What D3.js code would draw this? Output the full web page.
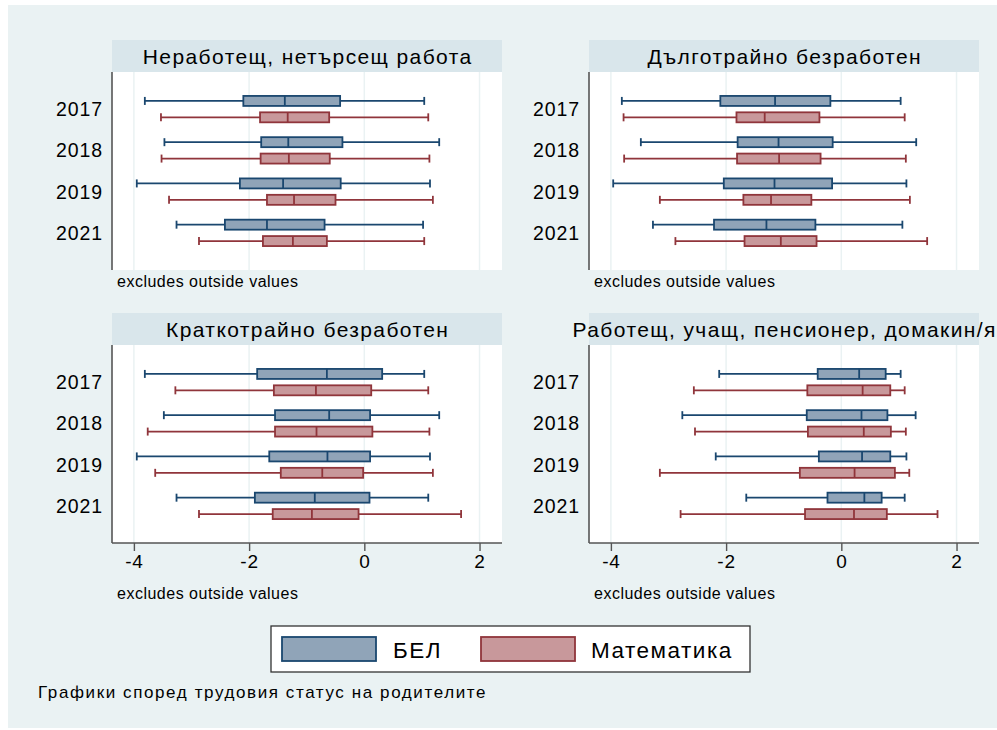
<!DOCTYPE html>
<html><head><meta charset="utf-8">
<script src="https://cdn.jsdelivr.net/npm/d3@7"></script>
<style>body{margin:0;background:#fff}svg{display:block;font-family:"Liberation Sans",Arial,sans-serif}</style>
</head><body>
<svg id="c" width="997" height="730"></svg>
<script>
const panels = ["Неработещ, нетърсещ работа","Дълготрайно безработен","Краткотрайно безработен","Работещ, учащ, пенсионер, домакин/я"];
const years = ["2017","2018","2019","2021"];
const series = ["БЕЛ","Математика"];
const xTicks = [-4,-2,0,2];
// [whiskerLow, q1, median, q3, whiskerHigh] per panel, per year
const bel = [
  [[-3.81,-2.10,-1.38,-0.42,1.04],[-3.47,-1.79,-1.32,-0.38,1.30],[-3.95,-2.16,-1.41,-0.41,1.14],[-3.26,-2.42,-1.69,-0.69,1.02]],
  [[-3.81,-2.10,-1.15,-0.19,1.03],[-3.48,-1.80,-1.09,-0.15,1.30],[-3.96,-2.04,-1.16,-0.16,1.13],[-3.27,-2.21,-1.30,-0.45,1.06]],
  [[-3.81,-1.86,-0.65,0.31,1.04],[-3.48,-1.55,-0.61,0.10,1.30],[-3.95,-1.65,-0.64,0.10,1.14],[-3.26,-1.90,-0.86,0.09,1.11]],
  [[-2.12,-0.41,0.31,0.77,1.03],[-2.76,-0.60,0.35,0.80,1.29],[-2.18,-0.39,0.36,0.85,1.13],[-1.65,-0.24,0.40,0.70,1.10]]
];
const mat = [
  [[-3.53,-1.81,-1.33,-0.61,1.11],[-3.52,-1.80,-1.31,-0.60,1.13],[-3.39,-1.69,-1.22,-0.50,1.19],[-2.87,-1.76,-1.24,-0.65,1.04]],
  [[-3.78,-1.82,-1.33,-0.38,1.10],[-3.77,-1.81,-1.08,-0.36,1.12],[-3.15,-1.70,-1.22,-0.52,1.19],[-2.88,-1.68,-1.05,-0.43,1.49]],
  [[-3.28,-1.57,-0.84,0.12,1.11],[-3.76,-1.55,-0.83,0.14,1.13],[-3.63,-1.45,-0.73,-0.02,1.19],[-2.87,-1.59,-0.91,-0.10,1.68]],
  [[-2.56,-0.59,0.37,0.85,1.10],[-2.54,-0.58,0.39,0.86,1.12],[-3.15,-0.72,0.23,0.93,1.18],[-2.79,-0.63,0.22,0.79,1.67]]
];
const note = "excludes outside values";
const caption = "Графики според трудовия статус на родителите";

const strokeC = ["#1a476f","#90353b"];
const fillC = ["#90a4b8","#c8989b"];
const bg = "#eaf2f3", stripC = "#d9e6eb";

const svg = d3.select("#c");
svg.append("rect").attr("x",8).attr("y",5).attr("width",989).attr("height",723).attr("fill",bg);

const pw = 390, ph = 198;
const origins = [[112,72],[589,72],[112,345],[589,345]];
const x = d3.scaleLinear().domain([-4.38,2.39]).range([0,pw]);
const y = d3.scalePoint().domain(years).range([0,ph]).padding(0.9);
const off = [-8.2, 8.2];
const bh = 10;

panels.forEach((title,i)=>{
  const [ox,oy] = origins[i];
  const g = svg.append("g").attr("transform",`translate(${ox},${oy})`);
  g.append("rect").attr("x",0).attr("y",-32).attr("width",pw).attr("height",32).attr("fill",stripC);
  g.append("text").attr("x",pw/2+0.7).attr("y",-8.5).attr("text-anchor","middle").attr("font-size",21)
    .attr("letter-spacing",1.4).attr("fill","#000").text(title);
  g.append("rect").attr("width",pw).attr("height",ph).attr("fill","#fff");
  g.selectAll("line.grid").data(xTicks).join("line").attr("class","grid")
    .attr("x1",d=>x(d)).attr("x2",d=>x(d)).attr("y1",0).attr("y2",ph)
    .attr("stroke",bg).attr("stroke-width",1.5);
  g.append("line").attr("x1",0).attr("x2",0).attr("y1",0).attr("y2",ph).attr("stroke","#555").attr("stroke-width",1.6);
  g.selectAll("text.yl").data(years).join("text").attr("class","yl")
    .attr("x",-9).attr("y",d=>y(d)).attr("dy","0.36em").attr("text-anchor","end")
    .attr("font-size",19.5).attr("letter-spacing",0.9).attr("fill","#000").text(d=>d);
  [bel[i],mat[i]].forEach((data,s)=>{
    years.forEach((yr,k)=>{
      const [wl,q1,md,q3,wh] = data[k];
      const cy = y(yr)+off[s];
      const bx = g.append("g");
      bx.append("line").attr("x1",x(wl)).attr("x2",x(q1)).attr("y1",cy).attr("y2",cy).attr("stroke",strokeC[s]).attr("stroke-width",1.8);
      bx.append("line").attr("x1",x(q3)).attr("x2",x(wh)).attr("y1",cy).attr("y2",cy).attr("stroke",strokeC[s]).attr("stroke-width",1.8);
      [wl,wh].forEach(v=>bx.append("line").attr("x1",x(v)).attr("x2",x(v)).attr("y1",cy-4).attr("y2",cy+4).attr("stroke",strokeC[s]).attr("stroke-width",1.8));
      bx.append("rect").attr("x",x(q1)).attr("y",cy-bh/2).attr("width",x(q3)-x(q1)).attr("height",bh)
        .attr("fill",fillC[s]).attr("stroke",strokeC[s]).attr("stroke-width",1.8);
      bx.append("line").attr("x1",x(md)).attr("x2",x(md)).attr("y1",cy-bh/2).attr("y2",cy+bh/2).attr("stroke",strokeC[s]).attr("stroke-width",1.8);
    });
  });
  let noteY = ph+17;
  if (i>=2){
    const ax = g.append("g").attr("transform",`translate(0,${ph})`)
      .call(d3.axisBottom(x).tickValues(xTicks).tickSize(8).tickPadding(4).tickFormat(d=>d<0?"-"+Math.abs(d):d));
    ax.select(".domain").attr("stroke","#555").attr("stroke-width",1.6).attr("d",`M0,0H${pw}`);
    ax.selectAll(".tick line").attr("stroke","#555").attr("stroke-width",1.4);
    ax.selectAll(".tick text").attr("font-size",19).attr("letter-spacing",0.8).attr("fill","#000").attr("font-family","Liberation Sans, Arial, sans-serif");
    noteY = ph+56;
  }
  g.append("text").attr("x",5).attr("y",noteY).attr("font-size",16).attr("letter-spacing",0.5).attr("fill","#000").text(note);
});

const lg = svg.append("g");
lg.append("rect").attr("x",271).attr("y",626).attr("width",479).attr("height",46).attr("fill","#fff").attr("stroke","#333").attr("stroke-width",1.3);
const keyX = [282,481], txtX = [393,591];
series.forEach((s,i)=>{
  lg.append("rect").attr("x",keyX[i]).attr("y",637).attr("width",94).attr("height",24).attr("fill",fillC[i]).attr("stroke",strokeC[i]).attr("stroke-width",1.8);
  lg.append("text").attr("x",txtX[i]).attr("y",657.5).attr("font-size",22.5).attr("letter-spacing",1.5).attr("fill","#000").text(s);
});
svg.append("text").attr("x",38).attr("y",698).attr("font-size",17).attr("letter-spacing",1.6).attr("fill","#000").text(caption);
</script>
</body></html>
